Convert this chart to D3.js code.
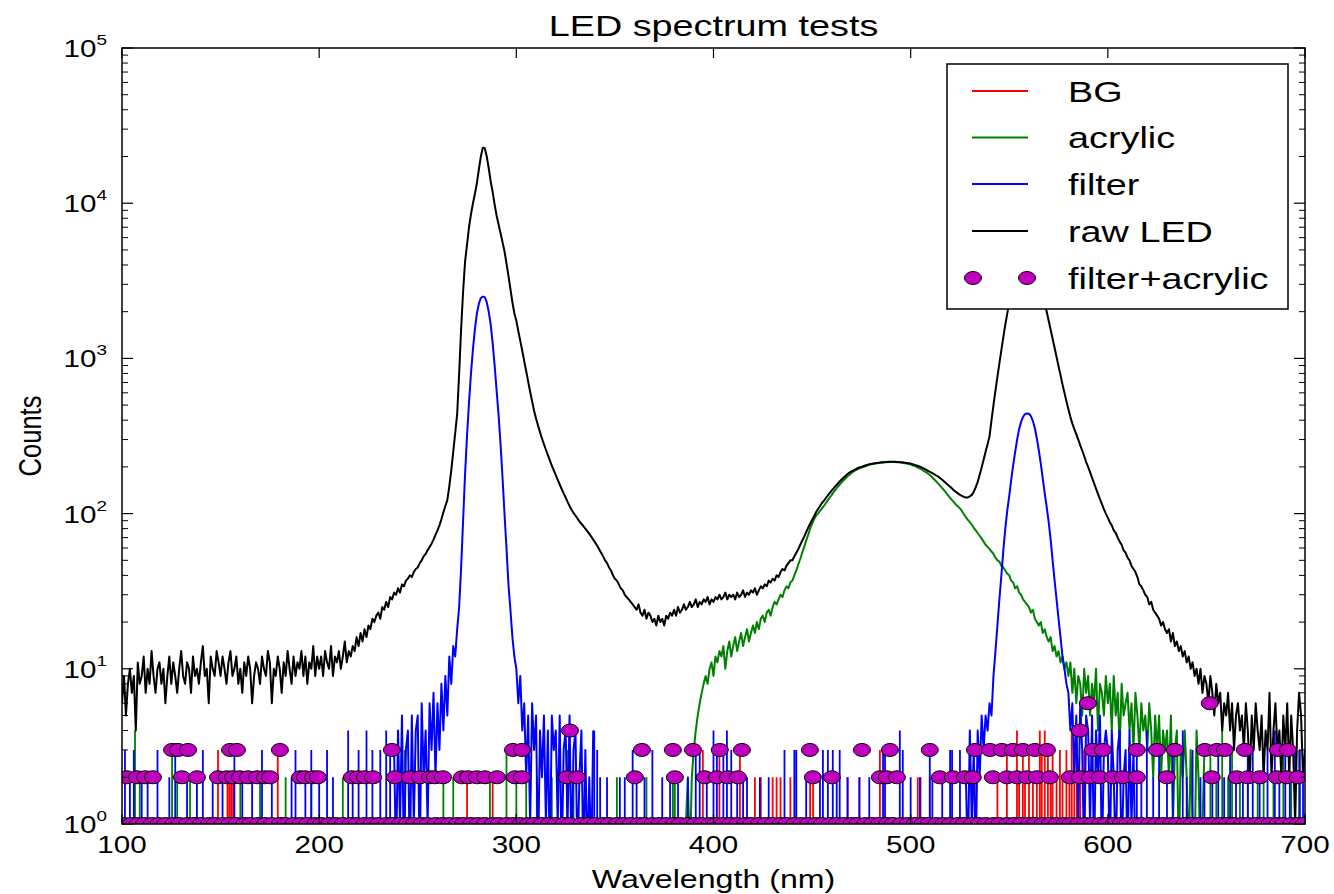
<!DOCTYPE html>
<html>
<head>
<meta charset="utf-8">
<script src="https://cdn.jsdelivr.net/npm/d3@7"></script>
<style>
  body { margin: 0; background: #fff; }
  svg { display: block; }
  text { font-family: "Liberation Sans", Arial, Helvetica, sans-serif; fill: #000; }
</style>
</head>
<body>
<svg id="chart" width="1334" height="894"></svg>
<script>
// ---------------- data ----------------
const xTicks = [100, 200, 300, 400, 500, 600, 700];
const yTickExps = [0, 1, 2, 3, 4, 5];
const seriesNames = ["BG", "acrylic", "filter", "raw LED", "filter+acrylic"];

// raw LED: one reading per nm, 100..700 nm
const ledStart = 100;
const ledCounts = [
  6, 9, 5, 8, 10, 7, 9, 4, 11, 8,
  9, 12, 7, 10, 8, 13, 9, 7, 10, 11,
  8, 10, 6, 9, 12, 8, 11, 9, 7, 10,
  13, 9, 8, 11, 10, 7, 12, 9, 10, 8,
  11, 14, 9, 10, 6, 12, 10, 9, 13, 11,
  9, 12, 10, 8, 11, 13, 9, 10, 12, 8,
  10, 7, 11, 9, 12, 10, 6, 9, 11, 10,
  8, 12, 10, 9, 13, 11, 6, 10, 9, 12,
  10, 7, 11, 9, 13, 10, 8, 12, 9, 11,
  10, 13, 9, 12, 8, 11, 10, 14, 9, 12,
  10, 12, 9, 13, 11, 10, 14, 9, 12, 11,
  13, 10, 12, 15, 11, 13, 12, 14, 13, 16,
  14, 17, 15, 18, 16, 19, 18, 21, 20, 22,
  23, 21, 25, 24, 27, 25, 29, 28, 31, 30,
  33, 31, 35, 34, 37, 38, 40, 39, 42, 44,
  45, 48, 50, 53, 55, 58, 61, 64, 68, 73,
  78, 84, 92, 102, 112, 122, 150, 190, 250, 330,
  440, 800, 1550, 2700, 4200, 5400, 7000, 8500, 10000, 11500,
  13500, 16500, 20000, 22800, 22600, 20000, 16800, 13800, 11800, 9800,
  8300, 7300, 6400, 5600, 4900, 4100, 3400, 2800, 2300, 1950,
  1750, 1500, 1300, 1120, 960, 830, 710, 610, 530, 460,
  410, 370, 335, 305, 280, 258, 238, 220, 204, 190,
  177, 165, 154, 144, 135, 127, 119, 112, 106, 101,
  97, 93, 89, 86, 83, 80, 77, 74, 71, 68,
  65, 62, 59, 56, 53, 50, 48, 45, 43, 40,
  38, 37, 35, 33, 32, 30, 29, 28, 27, 26,
  25, 24, 26, 23, 22, 24, 21, 23, 22, 20,
  21, 19, 22, 20, 21, 19, 22, 21, 23, 22,
  24, 22, 25, 23, 24, 26, 24, 25, 27, 25,
  26, 28, 25, 27, 26, 28, 27, 29, 26, 28,
  27, 29, 28, 30, 28, 29, 31, 28, 30, 29,
  30, 28, 31, 29, 30, 32, 29, 31, 30, 32,
  31, 33, 30, 32, 34, 33, 35, 34, 37, 36,
  38, 37, 40, 39, 42, 44, 43, 46, 48, 50,
  50, 53, 56, 59, 63, 67, 71, 76, 81, 86,
  91, 96, 102, 107, 112, 117, 121, 126, 131, 136,
  141, 146, 151, 156, 161, 166, 171, 175, 180, 184,
  187, 190, 193, 196, 198, 200, 202, 204, 206, 208,
  209, 210, 211, 212, 213, 214, 214, 215, 215, 216,
  216, 216, 216, 215, 215, 214, 214, 213, 212, 211,
  210, 208, 206, 204, 202, 200, 197, 194, 191, 188,
  185, 182, 179, 176, 173, 169, 165, 161, 157, 153,
  149, 145, 141, 138, 135, 132, 130, 128, 127, 127,
  129, 132, 138, 148, 160, 178, 198, 222, 250, 280,
  315, 400, 500, 620, 760, 930, 1130, 1370, 1650, 1950,
  2280, 2650, 3050, 3450, 3850, 4200, 4500, 4750, 4900, 4950,
  4900, 4750, 4500, 4150, 3750, 3350, 2950, 2600, 2280, 2000,
  1750, 1530, 1340, 1170, 1020, 890, 780, 680, 600, 530,
  470, 420, 380, 350, 325, 300, 275, 255, 235, 215,
  200, 185, 170, 157, 145, 134, 124, 115, 107, 100,
  94, 88, 84, 78, 75, 70, 66, 63, 58, 56,
  52, 50, 46, 44, 42, 39, 35, 34, 32, 30,
  29, 26, 27, 24, 23, 22, 21, 19, 20, 18,
  17, 18, 15, 17, 14, 15, 13, 14, 12, 13,
  11, 12, 10, 11, 9, 10, 8, 10, 7, 9,
  8, 6, 9, 7, 5, 8, 6, 7, 4, 6,
  5, 7, 4, 6, 3, 5, 6, 4, 5, 3,
  6, 4, 2, 5, 3, 6, 4, 3, 5, 2,
  4, 3, 7, 2, 4, 6, 3, 4, 2, 5,
  3, 6, 2, 5, 3, 1, 4, 7, 5, 2,
  3
];

// filter: two peak regions read per nm, plus isolated low-count hits
const filterPeak1Start = 238;
const filterPeak1 = [
  3, 0, 4, 1, 5, 0, 3, 4, 0, 5, 1, 4,
  5, 0, 6, 2, 4, 1, 6, 3, 7, 2,
  6, 3, 8, 4, 9, 5, 12, 8, 14, 12,
  18, 25, 45, 90, 180, 320, 520, 800, 1150, 1550,
  1950, 2250, 2450, 2500, 2480, 2300, 2000, 1650, 1250, 900,
  620, 430, 280, 170, 100, 60, 35, 24, 16, 12,
  10, 6, 9, 4, 6, 2, 5, 1, 6, 3,
  5, 0, 4, 2, 5, 1, 4, 0, 5, 3,
  4, 1, 5, 0, 3, 4, 1, 5, 0, 3,
  4, 0, 2, 4, 0, 3, 0, 2, 0, 4
];
const filterPeak2Start = 528;
const filterPeak2 = [
  2, 0, 4, 1, 3, 0, 4, 2, 5, 3, 5, 4,
  6, 5, 9, 13, 19, 28, 40, 58, 80, 105,
  130, 165, 205, 250, 300, 350, 390, 420, 438, 442,
  440, 425, 395, 355, 305, 255, 210, 168, 135, 110,
  88, 68, 50, 37, 28, 21, 16, 12, 10, 8,
  7, 4, 6, 2, 5, 1, 6, 3, 0, 5,
  4, 1, 5, 0, 4, 2, 5, 0, 3, 4,
  3, 0, 4, 2, 0, 3, 4, 0, 2, 3,
  0, 4, 1, 3, 0
];
const filterHits = [
  [101.5, 3], [104, 2], [106, 3], [110, 2], [113, 2], [118, 3], [124, 2], [127, 3],
  [133, 2], [138, 2], [141, 3], [146, 2], [151, 2], [157, 3], [161, 2], [166, 2],
  [171, 3], [176, 2], [186, 2], [188, 3], [193, 2], [196, 3], [200, 2], [204, 3],
  [207, 2], [214.7, 4], [217, 2], [220, 3], [224, 4], [227, 3], [231, 3], [234, 4], [236, 3],
  [339.5, 4], [341, 3], [342.5, 2], [346, 2], [352.5, 2], [355, 2], [359, 3], [361, 2],
  [365, 2], [369, 3], [374, 2], [378, 2], [382, 2], [387, 2], [391, 3], [393, 3],
  [396.6, 2], [400, 4], [401.7, 3], [405, 3], [406.8, 4], [409, 3], [412, 2], [415, 2],
  [417, 2], [423.5, 2], [428, 2], [436, 3], [441, 3], [442, 3], [447, 2], [454, 2],
  [455.5, 3], [458, 3], [460.5, 3], [462.5, 2], [464, 3], [468, 2], [474, 2], [479, 2],
  [486, 3], [487, 3], [494.5, 4], [496, 3], [500, 2], [504.7, 2], [509.7, 3], [511, 2],
  [516, 2], [520, 3], [521, 3], [525, 3],
  [614.7, 3], [617, 2], [619.8, 4], [623, 2], [626, 3], [630, 2], [633, 3], [638, 4],
  [640, 2], [643, 3], [647, 2], [649, 2], [653, 2], [656, 3], [659, 2], [662, 3],
  [665, 2], [668.5, 2], [671, 3], [673.5, 3], [677, 2], [681, 3], [684.7, 4], [687, 2],
  [690, 3], [692.3, 2], [695, 3], [697.4, 3], [699, 2]
];

// acrylic: broad band read per nm, plus isolated low-count hits
const acrylicStart = 386;
const acrylicCounts = [
  1, 2, 0, 2,
  3, 4, 5, 6, 7, 8, 9, 8, 10, 11,
  9, 12, 11, 13, 12, 14, 10, 13, 15, 12,
  14, 16, 13, 15, 17, 14, 16, 18, 15, 17,
  19, 17, 20, 18, 21, 22, 20, 23, 24, 22,
  25, 27, 26, 28, 30, 29, 32, 34, 33, 36,
  37, 40, 43, 47, 51, 56, 61, 67, 73, 80,
  86, 92, 97, 100, 104, 108, 112, 117, 122, 127,
  132, 138, 143, 149, 154, 159, 164, 169, 174, 178,
  183, 187, 190, 193, 196, 198, 200, 202, 204, 206,
  208, 209, 210, 211, 212, 213, 213, 214, 214, 215,
  215, 215, 215, 214, 214, 213, 212, 211, 210, 209,
  207, 205, 203, 200, 197, 194, 191, 187, 184, 180,
  176, 171, 166, 161, 156, 151, 146, 141, 136, 131,
  126, 122, 118, 114, 111, 108, 104, 99, 95, 91,
  88, 85, 81, 78, 75, 72, 69, 66, 63, 61,
  59, 57, 55, 52, 50, 49, 46, 45, 43, 41,
  40, 37, 36, 33, 34, 31, 30, 28, 27, 26,
  25, 23, 24, 21, 20, 19, 20, 17, 18, 16,
  15, 16, 13, 14, 12, 13, 11, 12, 10, 11,
  9, 11, 7, 10, 6, 9, 8, 5, 10, 7,
  9, 5, 8, 6, 10, 4, 8, 7, 5, 9,
  6, 8, 4, 9, 5, 7, 3, 8, 5, 6,
  7, 4, 6, 3, 7, 5, 3, 6, 4, 5,
  3, 6, 4, 2, 5, 3, 5, 2, 4, 3,
  4, 2, 5, 1, 3, 4, 0, 3, 2, 4,
  2, 0, 3, 1, 0, 4, 2, 0, 1, 3
];
const acrylicHits = [
  [106.6, 4], [109, 2], [125.4, 3], [128, 2], [134.5, 2], [160, 2], [170, 2], [183, 2],
  [196, 2], [212, 2], [241, 2], [243.5, 3], [263, 2], [268, 2], [286.6, 2], [295, 3],
  [300, 2], [305, 3], [310.4, 2], [318, 2], [325.7, 3], [329, 2], [351, 2], [366, 2],
  [379.4, 2], [380.4, 2], [652, 3], [655, 2], [658, 4], [661, 2], [663, 3], [667, 2],
  [671, 3], [676, 2], [679, 3], [684, 2], [689, 3], [693, 2], [697, 3]
];

// background: isolated low-count hits
const bgHits = [
  [148.7, 3], [153.5, 2], [154.5, 2], [155.5, 2], [156.5, 2], [179, 3], [275, 2], [288, 2],
  [394.6, 3], [403, 3], [413.4, 3], [421, 2], [424, 2], [430, 2], [432, 2], [434, 2],
  [439, 2], [449, 2], [450.5, 2], [468, 2], [474, 2], [484.4, 3], [503.6, 2], [505, 2],
  [509.7, 2], [532.5, 2], [544, 2], [548.8, 3], [553.9, 4], [555, 2], [556.9, 3], [558, 2],
  [560, 3], [562, 2], [564, 2], [565.5, 4], [566.5, 3], [568, 4], [569.6, 3], [571, 2],
  [572, 3], [574, 2], [575.7, 3], [577, 2], [579, 3], [580.5, 2], [581.7, 4], [583, 3],
  [584.3, 4], [586, 2], [588, 3]
];

// filter+acrylic readings, grouped by count
const faCount6 = [589.9, 651.7];
const faCount4 = [327.2, 585.8];
const faCount3 = [
  125.4, 128.4, 133.5, 154.8, 158.3, 180.1, 236.9, 298.3, 302.8, 363.7, 379.4, 389.6,
  403.2, 414.4, 448.9, 475.3, 489.5, 509.7, 532.6, 540.2, 546.2, 551.8, 556.9, 563.0,
  569.1, 592.4, 597.5, 614.7, 624.9, 634.0, 649.2, 655.3, 659.3, 669.5, 686.2, 691.3
];
const faCount2 = [
  102.5, 107.6, 111.7, 115.7, 130.4, 138.0, 148.7, 153.2, 156.3, 159.8, 163.9, 168.5,
  172.5, 175.1, 190.3, 192.8, 196.9, 199.4, 216.6, 219.7, 223.2, 227.3, 238.4, 246.0,
  251.1, 256.2, 258.7, 262.8, 272.4, 275.5, 280.0, 284.1, 290.2, 299.3, 302.8, 325.7,
  330.7, 360.1, 380.4, 395.6, 401.7, 407.3, 412.4, 450.4, 460.0, 484.4, 487.9, 493.0,
  514.8, 521.4, 527.5, 531.5, 541.7, 548.8, 553.9, 558.9, 564.0, 570.6, 580.7, 585.8,
  590.9, 595.9, 602.5, 607.6, 614.7, 629.9, 652.7, 665.4, 671.0, 677.1, 685.7, 690.8, 696.3
];
const faCount1 = [
  101, 104.5, 108, 111, 115, 118.5, 122, 126, 129, 133, 136.5, 140, 144, 147, 151, 154.5,
  158, 162, 165, 169, 172.5, 176, 180, 183, 187, 190.5, 194, 198, 201, 205, 208.5, 212,
  216, 219, 223, 226.5, 230, 234, 237, 241, 244.5, 248, 252, 255, 259, 262.5, 266, 270,
  273, 277, 280.5, 284, 288, 291, 295, 298.5, 302, 306, 309, 313, 316.5, 320, 324, 327,
  333, 336.5, 340, 344, 347, 351, 354.5, 358, 362, 365, 369, 372.5, 376, 380, 383, 387,
  390.5, 394, 398, 401, 405, 408.5, 412, 416, 419, 423, 426.5, 430, 434, 437, 441, 444.5,
  448, 452, 455, 459, 462.5, 466, 470, 473, 477, 480.5, 484, 488, 491, 495, 498.5, 502,
  506, 509, 513, 516.5, 520, 524, 527, 531, 534.5, 538, 542, 545, 549, 552.5, 556, 560,
  563, 567, 570.5, 574, 578, 581, 585, 588.5, 592, 596, 599, 603, 606.5, 610, 614, 617,
  621, 624.5, 628, 632, 635, 639, 642.5, 646, 650, 653, 657, 660.5, 664, 668, 671, 675,
  678.5, 682, 686, 689, 693, 696.5, 699.5
];

// ---------------- layout & style ----------------
const plot = { left: 122, top: 48, right: 1305, bottom: 824 };
const SX = 1.26;                   // horizontal text stretch
const FONT_TICK = 23.5, FONT_LABEL = 25.5, FONT_TITLE = 30, FONT_LEGEND = 30;
const colors = { bg: "#ff0000", acrylic: "#008000", filter: "#0000ff", led: "#000000", fa: "#bf00bf" };
const LW = 2;          // data line width
const HIT_W = 1.8;     // isolated hit width

const svg = d3.select("#chart");
const x = d3.scaleLinear().domain([100, 700]).range([plot.left, plot.right]);
const y = d3.scaleLog().domain([1, 1e5]).range([plot.bottom, plot.top]);
const yPos = v => (v > 0 ? y(v) : plot.bottom + 40);

svg.append("defs").append("clipPath").attr("id", "plotClip")
  .append("rect")
  .attr("x", plot.left).attr("y", plot.top)
  .attr("width", plot.right - plot.left).attr("height", plot.bottom - plot.top);

const data = svg.append("g").attr("clip-path", "url(#plotClip)");

const toPoints = (start, arr) => arr.map((c, i) => [start + i, c]);
const line = d3.line().x(d => x(d[0])).y(d => yPos(d[1]));

function drawHits(hits, color) {
  const p = d3.path();
  hits.forEach(([wl, c]) => {
    p.moveTo(x(wl), plot.bottom + 5);
    p.lineTo(x(wl), yPos(c));
  });
  data.append("path").attr("d", p.toString())
    .attr("fill", "none").attr("stroke", color).attr("stroke-width", HIT_W);
}
function drawSeries(points, color) {
  data.append("path").datum(points).attr("d", line)
    .attr("fill", "none").attr("stroke", color)
    .attr("stroke-width", LW).attr("stroke-linejoin", "round");
}

// BG
drawHits(bgHits, colors.bg);
// acrylic
drawHits(acrylicHits, colors.acrylic);
drawSeries(toPoints(acrylicStart, acrylicCounts), colors.acrylic);
// filter
drawHits(filterHits, colors.filter);
drawSeries(toPoints(filterPeak1Start, filterPeak1), colors.filter);
drawSeries(toPoints(filterPeak2Start, filterPeak2), colors.filter);
// raw LED
drawSeries(toPoints(ledStart, ledCounts), colors.led);
// filter+acrylic markers
const faPoints = [].concat(
  faCount1.map(w => [w, 1]), faCount2.map(w => [w, 2]), faCount3.map(w => [w, 3]),
  faCount4.map(w => [w, 4]), faCount6.map(w => [w, 6])
);
data.append("g").selectAll("ellipse").data(faPoints).join("ellipse")
  .attr("cx", d => x(d[0])).attr("cy", d => y(d[1]))
  .attr("rx", 8.5).attr("ry", 6.5)
  .attr("fill", colors.fa).attr("stroke", "#000").attr("stroke-width", 1);

// ---------------- axes ----------------
const axes = svg.append("g").attr("stroke", "#000").attr("fill", "none");
axes.append("rect")
  .attr("x", plot.left).attr("y", plot.top)
  .attr("width", plot.right - plot.left).attr("height", plot.bottom - plot.top)
  .attr("stroke-width", 1.5);

xTicks.forEach(t => {
  const px = x(t);
  axes.append("line").attr("x1", px).attr("x2", px).attr("y1", plot.bottom).attr("y2", plot.bottom - 10).attr("stroke-width", 1.2);
  axes.append("line").attr("x1", px).attr("x2", px).attr("y1", plot.top).attr("y2", plot.top + 10).attr("stroke-width", 1.2);
});
yTickExps.forEach(e => {
  const py = y(Math.pow(10, e));
  axes.append("line").attr("x1", plot.left).attr("x2", plot.left + 11).attr("y1", py).attr("y2", py).attr("stroke-width", 1.2);
  axes.append("line").attr("x1", plot.right).attr("x2", plot.right - 11).attr("y1", py).attr("y2", py).attr("stroke-width", 1.2);
  if (e < 5) {
    for (let m = 2; m <= 9; m++) {
      const pm = y(m * Math.pow(10, e));
      axes.append("line").attr("x1", plot.left).attr("x2", plot.left + 6).attr("y1", pm).attr("y2", pm).attr("stroke-width", 1);
      axes.append("line").attr("x1", plot.right).attr("x2", plot.right - 6).attr("y1", pm).attr("y2", pm).attr("stroke-width", 1);
    }
  }
});

function stretchedText(px, py, str, size, anchor, rotate) {
  const tr = `translate(${px},${py}) scale(${SX},1)` + (rotate ? ` rotate(${rotate})` : "");
  return svg.append("text").attr("transform", tr)
    .attr("font-size", size).attr("text-anchor", anchor).text(str);
}

// x tick labels
xTicks.forEach(t => stretchedText(x(t), 853, String(t), FONT_TICK, "middle"));

// y tick labels as 10^n
yTickExps.forEach(e => {
  const py = y(Math.pow(10, e));
  const t = svg.append("text")
    .attr("transform", `translate(${plot.left - 15},${py + 9}) scale(${SX},1)`)
    .attr("font-size", FONT_TICK).attr("text-anchor", "end");
  t.append("tspan").text("10");
  t.append("tspan").attr("dy", -12).attr("font-size", 15).text(String(e));
});

// titles
stretchedText((plot.left + plot.right) / 2, 36, "LED spectrum tests", FONT_TITLE, "middle");
stretchedText((plot.left + plot.right) / 2, 888, "Wavelength (nm)", FONT_LABEL, "middle");
stretchedText(41, (plot.top + plot.bottom) / 2, "Counts", FONT_LABEL, "middle", -90);

// ---------------- legend ----------------
const lg = { x: 947, y: 64, w: 341, h: 245 };
const legend = svg.append("g");
legend.append("rect").attr("x", lg.x).attr("y", lg.y).attr("width", lg.w).attr("height", lg.h)
  .attr("fill", "#fff").attr("stroke", "#000").attr("stroke-width", 1.5);
const rowY = [91, 137.5, 184, 231, 278];
const legendColors = [colors.bg, colors.acrylic, colors.filter, colors.led, colors.fa];
seriesNames.forEach((name, i) => {
  const cy = rowY[i];
  if (i < 4) {
    legend.append("line").attr("x1", 972).attr("x2", 1028).attr("y1", cy).attr("y2", cy)
      .attr("stroke", legendColors[i]).attr("stroke-width", LW);
  } else {
    [973, 1027].forEach(cx => legend.append("ellipse").attr("cx", cx).attr("cy", cy)
      .attr("rx", 8.5).attr("ry", 6.5).attr("fill", colors.fa).attr("stroke", "#000").attr("stroke-width", 1));
  }
  stretchedText(1068, cy + 10.5, name, FONT_LEGEND, "start");
});
</script>
</body>
</html>
